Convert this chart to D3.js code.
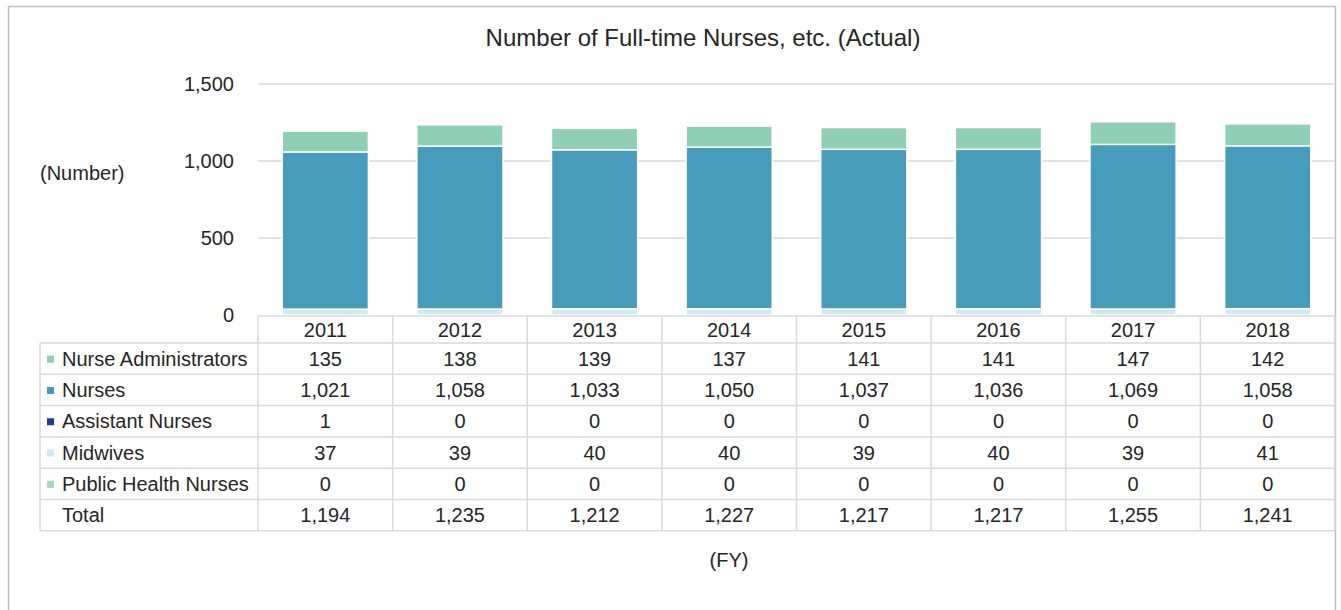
<!DOCTYPE html>
<meta charset="utf-8">
<head>
<script src="https://d3js.org/d3.v7.min.js"></script>
<style>
  body { margin: 0; background: #fff; font-family: "Liberation Sans", Arial, sans-serif; }
  svg text { fill: #262626; }
</style>
</head>
<body>
<svg id="chart" width="1341" height="610"></svg>
<script>
// data
var years = ["2011", "2012", "2013", "2014", "2015", "2016", "2017", "2018"];
var seriesNames = ["Nurse Administrators", "Nurses", "Assistant Nurses", "Midwives", "Public Health Nurses"];
var nurseAdmins   = [135, 138, 139, 137, 141, 141, 147, 142];
var nurses        = [1021, 1058, 1033, 1050, 1037, 1036, 1069, 1058];
var assistants    = [1, 0, 0, 0, 0, 0, 0, 0];
var midwives      = [37, 39, 40, 40, 39, 40, 39, 41];
var publicHealth  = [0, 0, 0, 0, 0, 0, 0, 0];
var totals        = [1194, 1235, 1212, 1227, 1217, 1217, 1255, 1241];
var yTicks        = [0, 500, 1000, 1500];

var colors = {
  "Nurse Administrators": "#8ecfb5",
  "Nurses": "#479bbb",
  "Assistant Nurses": "#1f3d8c",
  "Midwives": "#cfe9f6",
  "Public Health Nurses": "#a2d9bf"
};
var valuesBySeries = {
  "Nurse Administrators": nurseAdmins,
  "Nurses": nurses,
  "Assistant Nurses": assistants,
  "Midwives": midwives,
  "Public Health Nurses": publicHealth
};

var svg = d3.select("#chart");
var plotLeft = 258, plotRight = 1335, plotTop = 84, plotBottom = 315;

// outer frame
svg.append("rect").attr("x", 8.5).attr("y", 6.5).attr("width", 1327).attr("height", 620)
  .attr("fill", "none").attr("stroke", "#bfbfbf").attr("stroke-width", 1.5);

svg.append("text").attr("x", 703).attr("y", 46).attr("text-anchor", "middle")
  .style("font-size", "24px").text("Number of Full-time Nurses, etc. (Actual)");

var x = d3.scaleBand().domain(years).range([plotLeft, plotRight]).paddingInner(0.36).paddingOuter(0.18);
var col = d3.scaleBand().domain(years).range([plotLeft, plotRight]);
var y = d3.scaleLinear().domain([0, 1500]).range([plotBottom, plotTop]);

// gridlines
svg.append("g").selectAll("line").data(yTicks.filter(function(d){ return d > 0; })).join("line")
  .attr("x1", plotLeft).attr("x2", plotRight)
  .attr("y1", function(d){ return y(d); }).attr("y2", function(d){ return y(d); })
  .attr("stroke", "#d9d9d9").attr("stroke-width", 1.5);

// y labels
var yAxis = svg.append("g").attr("transform", "translate(240,0)")
  .call(d3.axisLeft(y).tickValues(yTicks).tickSize(0).tickFormat(d3.format(",")));
yAxis.select(".domain").remove();
yAxis.selectAll("text").style("font-size", "20px").style("font-family", "Liberation Sans, Arial, sans-serif")
  .attr("fill", "#262626").attr("x", -6);

svg.append("text").attr("x", 40).attr("y", 180).style("font-size", "20px").text("(Number)");

// stacked bars
var stackOrder = ["Public Health Nurses", "Midwives", "Assistant Nurses", "Nurses", "Nurse Administrators"];
var rows = years.map(function(yr, i) {
  var r = { year: yr };
  stackOrder.forEach(function(s){ r[s] = valuesBySeries[s][i]; });
  return r;
});
var stacked = d3.stack().keys(stackOrder)(rows);

svg.append("g").selectAll("g").data(stacked).join("g")
  .attr("fill", function(d){ return colors[d.key]; })
  .selectAll("rect").data(function(d){ return d.filter(function(p){ return p[1] > p[0]; }); }).join("rect")
  .attr("x", function(d){ return x(d.data.year); })
  .attr("width", x.bandwidth())
  .attr("y", function(d){ return y(d[1]); })
  .attr("height", function(d){ return y(d[0]) - y(d[1]); })
  .attr("stroke", "#fff").attr("stroke-width", 1.5);

// data table
var tableLeft = 40;
var headerTop = 316, headerH = 27, rowH = 31.3;
var tableRows = seriesNames.map(function(s){ return { name: s, vals: valuesBySeries[s], color: colors[s] }; });
tableRows.push({ name: "Total", vals: totals, color: null });
var tableBottom = headerTop + headerH + rowH * tableRows.length;
var grid = "#d9d9d9";
var t = svg.append("g");

// header row top (year columns only)
t.append("line").attr("x1", plotLeft).attr("x2", plotRight).attr("y1", headerTop).attr("y2", headerTop)
  .attr("stroke", grid).attr("stroke-width", 1.5);
// horizontal lines
d3.range(tableRows.length + 1).forEach(function(i) {
  var yy = headerTop + headerH + rowH * i;
  t.append("line").attr("x1", tableLeft).attr("x2", plotRight).attr("y1", yy).attr("y2", yy)
    .attr("stroke", grid).attr("stroke-width", 1.5);
});
// vertical lines
t.append("line").attr("x1", tableLeft).attr("x2", tableLeft)
  .attr("y1", headerTop + headerH).attr("y2", tableBottom).attr("stroke", grid).attr("stroke-width", 1.5);
years.forEach(function(yr) {
  t.append("line").attr("x1", col(yr)).attr("x2", col(yr))
    .attr("y1", headerTop).attr("y2", tableBottom).attr("stroke", grid).attr("stroke-width", 1.5);
});
t.append("line").attr("x1", plotRight).attr("x2", plotRight)
  .attr("y1", headerTop).attr("y2", tableBottom).attr("stroke", grid).attr("stroke-width", 1.5);

// header text
t.selectAll("text.yr").data(years).join("text").attr("class", "yr")
  .attr("x", function(d){ return col(d) + col.bandwidth() / 2; })
  .attr("y", headerTop + headerH / 2 + 7).attr("text-anchor", "middle")
  .style("font-size", "20px").text(function(d){ return d; });

var fmt = d3.format(",");
tableRows.forEach(function(r, i) {
  var cy = headerTop + headerH + rowH * i + rowH / 2;
  if (r.color) {
    t.append("rect").attr("x", 47).attr("y", cy - 3).attr("width", 7).attr("height", 7).attr("fill", r.color);
  }
  t.append("text").attr("x", 62).attr("y", cy + 7).style("font-size", "20px").text(r.name);
  t.selectAll(null).data(r.vals).join("text")
    .attr("x", function(d, j){ return col(years[j]) + col.bandwidth() / 2; })
    .attr("y", cy + 7).attr("text-anchor", "middle").style("font-size", "20px")
    .text(function(d){ return fmt(d); });
});

svg.append("text").attr("x", 729).attr("y", 567).attr("text-anchor", "middle")
  .style("font-size", "20px").text("(FY)");
</script>
</body>
